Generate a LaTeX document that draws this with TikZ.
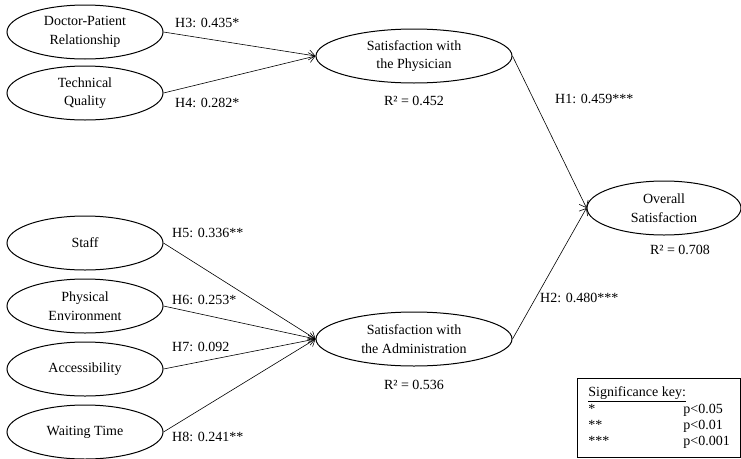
\documentclass[tikz,border=0pt]{standalone}
\usepackage{fontspec}
\setmainfont{Liberation Serif}
\usetikzlibrary{shapes.geometric, arrows.meta, positioning}
\tikzset{
  % Model styles
  construct/.style={ellipse, draw=black, line width=1pt, minimum width=156pt, minimum height=54pt, inner sep=0pt, align=center, font=\fontsize{14}{18.5}\selectfont},
  bigconstruct/.style={construct, minimum width=196pt},
  pathline/.style={-{Straight Barb[length=6pt, width=10pt]}, line width=0.6pt},
  coef/.style={inner sep=0pt, anchor=west, font=\fontsize{14}{16}\selectfont},
  rsq/.style={inner sep=0pt, font=\fontsize{14}{16}\selectfont},
}
\begin{document}
\begin{tikzpicture}[x=1pt, y=-1pt]
    \useasboundingbox (0,0) rectangle (741,458);

    % Physician antecedents
    \node[construct] (dpr) at (85,32) {Doctor-Patient\\Relationship};
    \node[construct, below=6pt of dpr] (tq) {Technical\\Quality};

    % Administration antecedents
    \node[construct] (staff) at (85,243) {Staff};
    \node[construct, below=8pt of staff] (phys) {Physical\\Environment};
    \node[construct, below=8pt of phys] (access) {Accessibility};
    \node[construct, below=8pt of access] (wait) {Waiting Time};

    % Mediators
    \node[bigconstruct] (physician) at (414,56) {Satisfaction with\\the Physician};
    \node[bigconstruct] (admin) at (414,339) {Satisfaction with\\the Administration};

    % Outcome
    \node[construct, minimum width=154pt] (overall) at (664,208) {Overall\\Satisfaction};

    % Paths
    \draw[pathline] (dpr.east) -- (physician.west);
    \draw[pathline] (tq.east) -- (physician.west);
    \draw[pathline] (staff.east) -- (admin.west);
    \draw[pathline] (phys.east) -- (admin.west);
    \draw[pathline] (access.east) -- (admin.west);
    \draw[pathline] (wait.east) -- (admin.west);
    \draw[pathline] (physician.east) -- (overall.west);
    \draw[pathline] (admin.east) -- (overall.west);

    % Coefficients
    \node[coef] (h3) at (175,23) {H3: 0.435*};
    \node[coef] (h4) at (175,103) {H4: 0.282*};
    \node[coef] (h5) at (172,233) {H5: 0.336**};
    \node[coef] (h6) at (172,300) {H6: 0.253*};
    \node[coef] (h7) at (172,347) {H7: 0.092};
    \node[coef] (h8) at (172,437) {H8: 0.241**};
    \node[coef] (h1) at (555,99) {H1: 0.459***};
    \node[coef] (h2) at (540,298) {H2: 0.480***};

    % Explained variance
    \node[rsq, below=12pt of physician] (r1) {R² = 0.452};
    \node[rsq, below=13pt of admin] (r2) {R² = 0.536};
    \node[rsq, below=9pt of overall, xshift=16pt] (r3) {R² = 0.708};

    % Significance key
    \node[draw=black, line width=0.8pt, anchor=north west, minimum width=163pt, minimum height=79pt, inner xsep=11pt, inner ysep=3pt, align=left, font=\fontsize{14}{16}\selectfont] (key) at (577,378) {%
      \begin{tabular}{@{}p{95pt}@{}l@{}}
        \multicolumn{2}{@{}l@{}}{\underline{Significance key:}}\\
        {*} & p<0.05\\
        {**} & p<0.01\\
        {***} & p<0.001
      \end{tabular}};
  \end{tikzpicture}
\end{document}
